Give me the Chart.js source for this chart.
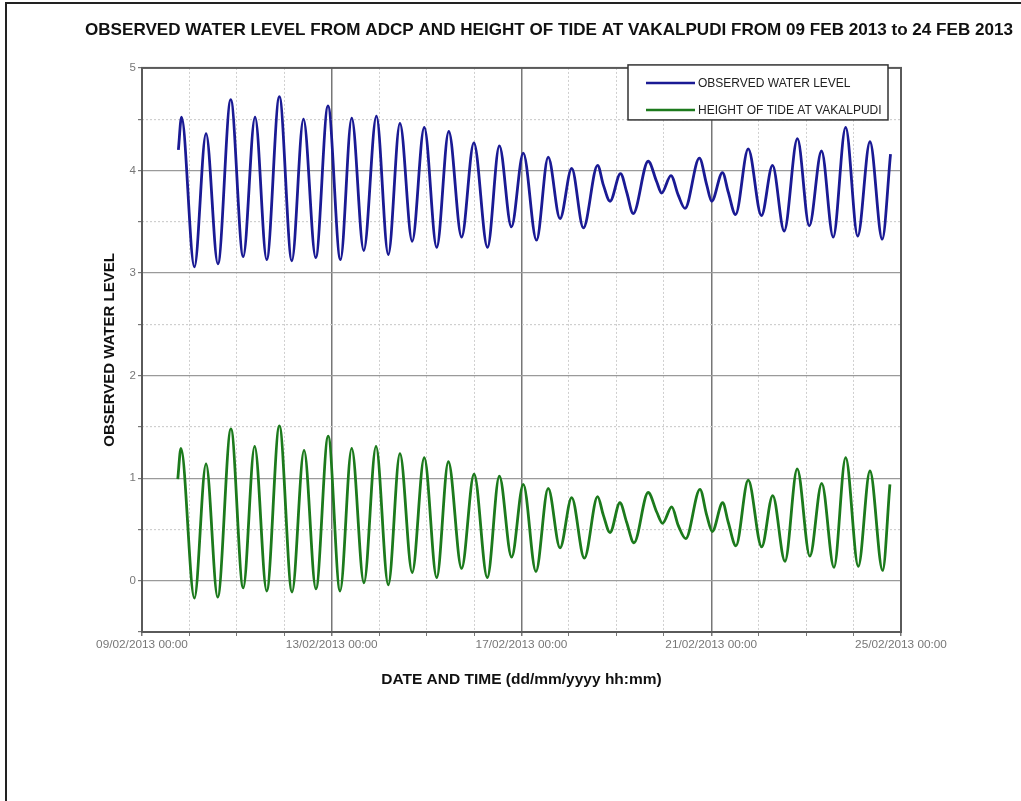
<!DOCTYPE html>
<html>
<head>
<meta charset="utf-8">
<script src="https://cdn.jsdelivr.net/npm/chart.js@4.4.1/dist/chart.umd.min.js"></script>
<style>
  html, body { margin: 0; padding: 0; background: #ffffff; }
  #wrap { position: relative; width: 1021px; height: 801px; }
  canvas { display: block; }
</style>
</head>
<body>
<div id="wrap"><canvas id="c" width="1021" height="801"></canvas></div>
<script>
// ---------- DATA (hours since 09/02/2013 00:00) ----------
const titleText = 'OBSERVED WATER LEVEL FROM ADCP AND HEIGHT OF TIDE AT VAKALPUDI FROM 09 FEB 2013 to 24 FEB 2013';
const seriesNames = ['OBSERVED WATER LEVEL', 'HEIGHT OF TIDE AT VAKALPUDI'];
const xTickLabels = ['09/02/2013 00:00', '13/02/2013 00:00', '17/02/2013 00:00', '21/02/2013 00:00', '25/02/2013 00:00'];

const observedHours = [18.4, 20.0, 26.5, 32.4, 38.4, 44.9, 51.2, 57.2, 63.1, 69.5, 75.8, 81.7, 87.9, 94.1, 100.4, 106.1,
  112.2, 118.6, 124.6, 130.5, 136.7, 142.8, 149.1, 155.2, 161.7, 167.9, 174.8, 180.8, 186.9, 192.9, 199.6, 205.5,
  211.5, 217.4, 223.3, 230.5, 233.4, 236.8, 242.1, 245.2, 248.5, 256.1, 260.4, 262.9, 267.6, 271.3, 274.7,
  282.0, 285.7, 288.2, 293.7, 296.6, 300.3, 306.7, 313.4, 319.0, 324.9, 331.6, 337.6, 343.8, 349.7, 356.0,
  362.1, 368.3, 374.5, 378.7];
const observedLevel = [4.20, 4.52, 3.06, 4.36, 3.09, 4.69, 3.16, 4.52, 3.13, 4.72, 3.12, 4.50, 3.15, 4.63, 3.13, 4.51,
  3.22, 4.53, 3.18, 4.46, 3.31, 4.42, 3.25, 4.38, 3.35, 4.27, 3.25, 4.24, 3.45, 4.17, 3.32, 4.13,
  3.53, 4.02, 3.44, 4.05, 3.86, 3.70, 3.97, 3.79, 3.58, 4.09, 3.89, 3.78, 3.95, 3.76, 3.63,
  4.12, 3.86, 3.70, 3.98, 3.79, 3.57, 4.21, 3.56, 4.05, 3.41, 4.31, 3.46, 4.19, 3.35, 4.42,
  3.36, 4.28, 3.33, 4.16];

const tideHours = [18.1, 19.7, 26.5, 32.4, 38.3, 45.0, 51.2, 57.0, 63.1, 69.5, 75.9, 82.0, 88.0, 94.2, 100.2, 106.1,
  112.3, 118.4, 124.6, 130.5, 136.7, 142.8, 149.1, 155.0, 161.7, 168.0, 174.7, 180.8, 187.0, 192.9, 199.3, 205.5,
  211.5, 217.4, 223.8, 230.5, 233.4, 236.8, 241.8, 245.2, 248.9, 256.1, 260.4, 263.4, 268.0, 271.3, 275.1,
  282.3, 285.7, 288.5, 293.8, 296.6, 300.5, 306.7, 313.5, 319.1, 325.3, 331.5, 337.9, 343.9, 350.1, 356.0,
  362.4, 368.3, 374.7, 378.4];
const tideHeight = [0.99, 1.29, -0.17, 1.14, -0.16, 1.48, -0.07, 1.31, -0.10, 1.51, -0.11, 1.27, -0.08, 1.41, -0.10, 1.29,
  -0.02, 1.31, -0.04, 1.24, 0.08, 1.20, 0.03, 1.16, 0.12, 1.04, 0.03, 1.02, 0.23, 0.94, 0.09, 0.90,
  0.32, 0.81, 0.22, 0.82, 0.64, 0.47, 0.76, 0.57, 0.37, 0.86, 0.67, 0.56, 0.72, 0.54, 0.41,
  0.89, 0.64, 0.48, 0.76, 0.57, 0.34, 0.98, 0.33, 0.83, 0.19, 1.09, 0.24, 0.95, 0.13, 1.20,
  0.14, 1.07, 0.10, 0.94];

const seriesColors = ['#1a1a94', '#1c7a1c'];
const FONT = "'Liberation Sans', Arial, sans-serif";

const toPoints = (xs, ys) => xs.map((x, i) => ({ x: x, y: ys[i] }));

// page frame, plot frame and boxed legend
const decorPlugin = {
  id: 'decor',
  afterDraw(chart) {
    const ctx = chart.ctx;
    const a = chart.chartArea;
    ctx.save();
    // page frame (top and left)
    ctx.strokeStyle = '#222';
    ctx.lineWidth = 2;
    ctx.beginPath();
    ctx.moveTo(6, 801); ctx.lineTo(6, 3); ctx.lineTo(1021, 3);
    ctx.stroke();
    // plot frame
    ctx.strokeStyle = '#5a5a5a';
    ctx.lineWidth = 2;
    ctx.strokeRect(a.left, a.top, a.right - a.left, a.bottom - a.top);
    // legend box
    const bx = a.right - 273, by = a.top - 3, bw = 260, bh = 55;
    ctx.fillStyle = '#ffffff';
    ctx.fillRect(bx, by, bw, bh);
    ctx.strokeStyle = '#333';
    ctx.lineWidth = 1.5;
    ctx.strokeRect(bx, by, bw, bh);
    ctx.font = '12px ' + FONT;
    ctx.textBaseline = 'middle';
    ctx.textAlign = 'left';
    chart.data.datasets.forEach((ds, i) => {
      const yy = by + 18 + i * 27;
      ctx.strokeStyle = ds.borderColor;
      ctx.lineWidth = 2.5;
      ctx.beginPath();
      ctx.moveTo(bx + 18, yy); ctx.lineTo(bx + 67, yy);
      ctx.stroke();
      ctx.fillStyle = '#222';
      ctx.fillText(ds.label, bx + 70, yy + 1);
    });
    ctx.restore();
  }
};

new Chart(document.getElementById('c'), {
  type: 'line',
  data: {
    datasets: [
      { label: seriesNames[0], data: toPoints(observedHours, observedLevel), borderColor: seriesColors[0],
        borderWidth: 2.8, pointRadius: 0, fill: false, cubicInterpolationMode: 'monotone' },
      { label: seriesNames[1], data: toPoints(tideHours, tideHeight), borderColor: seriesColors[1],
        borderWidth: 2.8, pointRadius: 0, fill: false, cubicInterpolationMode: 'monotone' }
    ]
  },
  options: {
    responsive: false,
    animation: false,
    layout: { padding: { left: 85, right: 8, top: 0, bottom: 109 } },
    plugins: {
      legend: { display: false },
      tooltip: { enabled: false },
      title: {
        display: true, text: titleText, align: 'start', color: '#111',
        font: { family: FONT, size: 17.1, weight: 'bold' },
        padding: { top: 20, bottom: 27.4 }
      }
    },
    scales: {
      x: {
        type: 'linear', min: 0, max: 384,
        afterFit: (s) => { s.height = 60; },
        ticks: {
          stepSize: 24, autoSkip: false, maxRotation: 0, padding: 2, color: '#777',
          font: { family: FONT, size: 11.8 },
          callback: (v) => (v % 96 === 0 ? xTickLabels[v / 96] : '')
        },
        grid: {
          color: (c) => (c.tick && c.tick.value % 96 === 0 ? '#777' : '#cfcfcf'),
          lineWidth: (c) => (c.tick && c.tick.value % 96 === 0 ? 1.5 : 1),
          tickLength: 4, tickColor: '#777'
        },
        border: { display: false, dash: (c) => (c.tick && c.tick.value % 96 !== 0 ? [2, 2] : []) },
        title: {
          display: true, text: 'DATE AND TIME (dd/mm/yyyy hh:mm)', color: '#111',
          font: { family: FONT, size: 15.5, weight: 'bold' },
          padding: { top: 0, bottom: 2.7 }
        }
      },
      y: {
        type: 'linear', position: 'left', min: -0.5, max: 5,
        afterFit: (s) => { s.width = 57; },
        ticks: {
          stepSize: 0.5, padding: 2, color: '#777',
          font: { family: FONT, size: 11.5 },
          callback: (v) => (Number.isInteger(v) ? String(v) : '')
        },
        grid: {
          color: (c) => (c.tick && Number.isInteger(c.tick.value) ? '#9a9a9a' : '#cfcfcf'),
          lineWidth: 1.2,
          tickLength: 4, tickColor: '#777'
        },
        border: { display: false, dash: (c) => (c.tick && !Number.isInteger(c.tick.value) ? [2, 2] : []) },
        title: {
          display: true, text: 'OBSERVED WATER LEVEL', color: '#111',
          font: { family: FONT, size: 15, weight: 'bold' },
          padding: { top: 16, bottom: 4 }
        }
      },
      yR: {
        type: 'linear', position: 'right', display: true,
        afterFit: (s) => { s.width = 112; },
        ticks: { display: false },
        grid: { display: false, drawTicks: false },
        border: { display: false }
      }
    }
  },
  plugins: [decorPlugin]
});
</script>
</body>
</html>
